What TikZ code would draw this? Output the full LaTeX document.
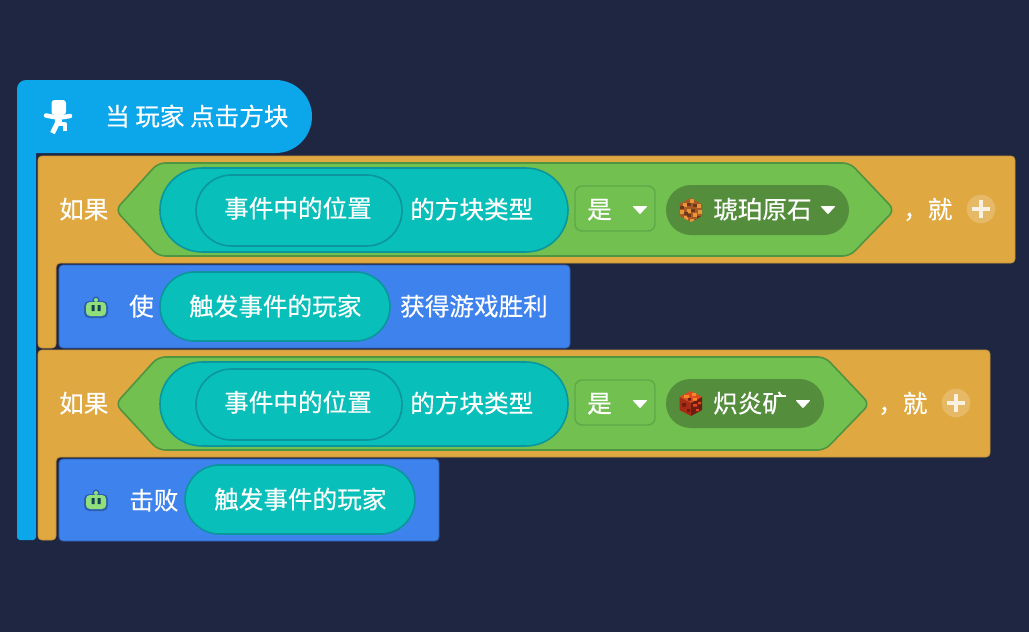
\documentclass[tikz,border=0pt]{standalone}
\usepackage{fontspec}
\setmainfont[FakeBold=0.35]{Noto Sans CJK SC}
\definecolor{bgc}{HTML}{1E2642}
\definecolor{hatc}{HTML}{0CA6EA}
\definecolor{orc}{HTML}{E0A840}
\definecolor{ore}{HTML}{C49238}
\definecolor{bluec}{HTML}{3E82EE}
\definecolor{bluee}{HTML}{2F5FB0}
\definecolor{grc}{HTML}{72C050}
\definecolor{gre}{HTML}{4F9440}
\definecolor{tealc}{HTML}{08BFBA}
\definecolor{teale}{HTML}{0A969C}
\definecolor{darkg}{HTML}{548E3C}
\definecolor{ddg}{HTML}{5EA847}
\definecolor{robotg}{HTML}{8FE07A}
\definecolor{ambd}{HTML}{6B3A1E}
\definecolor{ambm}{HTML}{A85A22}
\definecolor{ambl}{HTML}{E8963A}
\definecolor{lavat}{HTML}{E0481E}
\definecolor{lavad}{HTML}{6E1C12}
\definecolor{lavam}{HTML}{A82C14}
\definecolor{lavab}{HTML}{F58A2A}
\tikzset{
  x=1pt,y=-1pt,
  lab/.style={font=\fontsize{24.6}{24.6}\selectfont,text=white,inner sep=0pt,anchor=west,text height=19pt,text depth=2pt},
  hatblock/.style={fill=hatc,draw=none},
  orblock/.style={fill=orc,draw=ore,line width=.8pt,rounded corners=4pt},
  blueblock/.style={fill=bluec,draw=bluee,line width=.8pt,rounded corners=4pt},
  hexa/.style={fill=grc,draw=gre,line width=1.6pt,rounded corners=7pt},
  pillout/.style={fill=tealc,draw=teale,line width=1.6pt},
  ddbox/.style={fill=grc,draw=ddg,line width=1.4pt,rounded corners=7pt},
  ddpill/.style={fill=darkg,draw=none},
  tri/.style={fill=white,draw=white,line width=1pt,line join=round},
}
\newcommand{\ddtri}[2]{\path[tri] (#1-6.5,#2-3.5) -- (#1+6.5,#2-3.5) -- (#1,#2+3.5) -- cycle;}
\newcommand{\plusbtn}[2]{%
  \fill[white,opacity=.2] (#1,#2) circle (14.3);
  \draw[white,opacity=.8,line width=4.5pt] (#1-9,#2) -- (#1+9,#2) (#1,#2-9) -- (#1,#2+9);}
\newcommand{\robot}[2]{%
  \fill[bluee] (#1,#2-8) circle (3.6);
  \fill[bluee,rounded corners=5pt] (#1-12,#2-7) rectangle (#1+12,#2+10);
  \fill[robotg] (#1,#2-8) circle (2);
  \fill[robotg,rounded corners=4pt] (#1-10,#2-6) rectangle (#1+10,#2+8);
  \fill[bgc!70!teal] (#1-4.5,#2-3) rectangle (#1-1.5,#2+3) (#1+1.5,#2-3) rectangle (#1+4.5,#2+3);}
\newcommand{\hexpill}[2]{% right end x of hexagon, top y
  \path[hexa] (115.5,#2+47) -- (158,#2) -- (#1-42,#2) -- (#1+2.5,#2+47) -- (#1-42,#2+93) -- (158,#2+93) -- cycle;
  \path[pillout,rounded corners=42pt] (160,#2+5) rectangle (568,#2+89);
  \path[pillout,rounded corners=35.5pt] (196,#2+12) rectangle (402,#2+83);}
\begin{document}
\begin{tikzpicture}
\useasboundingbox (0,0) rectangle (1029,632);
\fill[bgc] (0,0) rectangle (1029,632);

% event hat and its spine
\path[hatblock] (17,120) [rounded corners=3pt] -- (17,540) -- (36,540) [sharp corners] -- (36,120) -- cycle;
\path[hatblock] (17,153) [rounded corners=9pt] -- (17,80) [rounded corners=36.5pt] -- (312,80) -- (312,153) [sharp corners] -- cycle;
% player icon
\fill[white,rounded corners=3pt] (51.5,100) rectangle (66,115);
\draw[white,line width=4.5pt,line cap=round,line join=round] (46,115.5) -- (54,117) -- (64,117) -- (70,116);
\draw[white,line width=5pt,line join=round] (58,118) -- (57,124) -- (52.5,133);
\draw[white,line width=4pt,line join=round] (60,118) -- (60,124) -- (65,124) -- (65,131);
\node[lab] (hatlabel) at (105,117) {当 玩家 点击方块};

% first if
\path[orblock] (38,156) -- (1015,156) -- (1015,263) -- (56,263) -- (56,348) -- (38,348) -- cycle;
\hexpill{892}{163}
\node[lab] (ifa) at (59,210) {如果};
\node[lab] (posa) at (224,209) {事件中的位置};
\node[lab] (typea) at (410,210) {的方块类型};
\path[ddbox] (575,186) rectangle (655,231);
\node[lab] (isa) at (587,210) {是};
\ddtri{640}{210}
\path[ddpill,rounded corners=25pt] (666,185) rectangle (849,235);
% amber ore icon
\begin{scope}
\clip (691,198) -- (702,204) -- (702,216) -- (691,222) -- (679.5,216) -- (679.5,204) -- cycle;
\fill[ambm] (678,196) rectangle (704,224);
\foreach \a/\b in {683/203,690/199,697/204,680/210,687/209,693/213,698/210,684/216,690/219}
  \fill[ambl] (\a,\b) rectangle ++(4,3.5);
\foreach \a/\b in {687/203,693/204,680/206,684/212,691/209,697/216,687/214,695/219}
  \fill[ambd] (\a,\b) rectangle ++(3.5,3.2);
\end{scope}
\node[lab] (itema) at (713,210) {琥珀原石};
\ddtri{828}{210}
\node[lab] (thena) at (903,210) {，就};
\plusbtn{981}{209}

\path[blueblock] (59,265) rectangle (570,348);
\robot{96}{308}
\node[lab] (use) at (129,307) {使};
\path[pillout,rounded corners=34.5pt] (160,272) rectangle (390,341);
\node[lab] (playera) at (189,307) {触发事件的玩家};
\node[lab] (win) at (400,307) {获得游戏胜利};

% second if
\path[orblock] (38,350) -- (990,350) -- (990,457) -- (56,457) -- (56,540) -- (38,540) -- cycle;
\hexpill{867}{357}
\node[lab] (ifb) at (59,404) {如果};
\node[lab] (posb) at (224,403) {事件中的位置};
\node[lab] (typeb) at (410,404) {的方块类型};
\path[ddbox] (575,380) rectangle (655,425);
\node[lab] (isb) at (587,404) {是};
\ddtri{640}{404}
\path[ddpill,rounded corners=24.5pt] (666,379) rectangle (824,428);
% blazing ore icon
\fill[lavat] (691,391) -- (702,397) -- (691,403) -- (679.5,397) -- cycle;
\fill[lavam] (679.5,397) -- (691,403) -- (691,416) -- (679.5,410) -- cycle;
\fill[lavad] (702,397) -- (691,403) -- (691,416) -- (702,410) -- cycle;
\fill[lavab] (684,395) rectangle ++(5,3) (692,393) rectangle ++(4,3) (693,398) rectangle ++(4,2.5);
\fill[lavad] (688,398) rectangle ++(3,2.5) (682,403) rectangle ++(4,3.5) (687,409) rectangle ++(3,3);
\fill[lavat] (693,404) rectangle ++(4,2.5) (698,402) rectangle ++(3,2) (696,409) rectangle ++(3,2);
\node[lab] (itemb) at (713,404) {炽炎矿};
\ddtri{803}{404}
\node[lab] (thenb) at (878,404) {，就};
\plusbtn{956}{403}

\path[blueblock] (59,459) rectangle (439,541);
\robot{96}{501}
\node[lab] (defeat) at (129,501) {击败};
\path[pillout,rounded corners=34.5pt] (185,465) rectangle (415,534);
\node[lab] (playerb) at (214,500) {触发事件的玩家};
\end{tikzpicture}
\end{document}
